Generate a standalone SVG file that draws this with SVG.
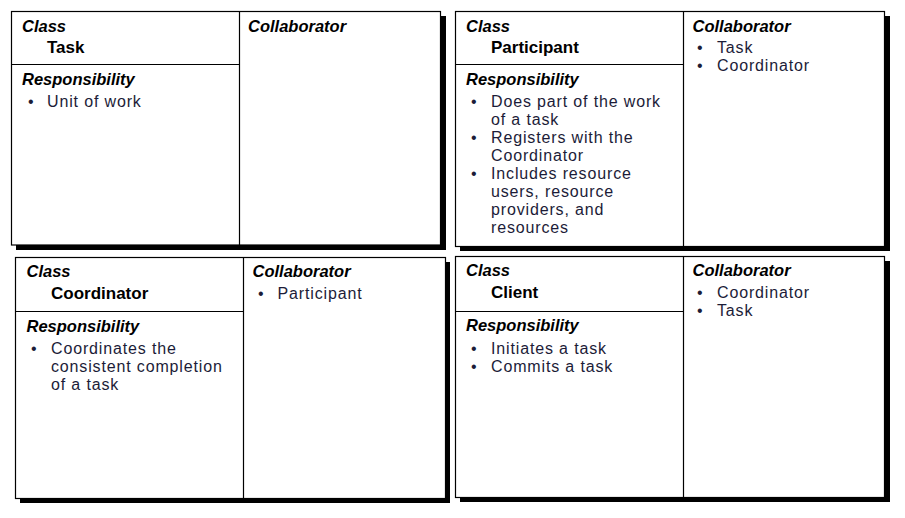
<svg xmlns="http://www.w3.org/2000/svg" width="905" height="518" viewBox="0 0 905 518">
<style>
text{font-family:"Liberation Sans",Arial,sans-serif;}
.hd{font-size:16.5px;font-weight:bold;font-style:italic;fill:#000;}
.nm{font-size:17px;font-weight:bold;fill:#000;}
.it{font-size:16px;letter-spacing:0.85px;fill:#1c1c38;}
.card{fill:#fff;stroke:#000;stroke-width:1.2;}
.sh{fill:#000;}
.ln{stroke:#000;stroke-width:1.2;fill:none;}
</style>
<rect width="905" height="518" fill="#fff"/>
<g id="card-task">
<rect class="sh" x="16" y="16" width="430" height="234"/>
<rect class="card" x="11.5" y="11.5" width="429" height="233.5"/>
<path class="ln" d="M239.5 11.5V245M11.5 64.5H239.5"/>
<text class="hd" x="22" y="32">Class</text>
<text class="nm" x="47" y="53">Task</text>
<text class="hd" x="22" y="85">Responsibility</text>
<text class="it" y="107"><tspan x="28">•</tspan><tspan x="47">Unit of work</tspan></text>
<text class="hd" x="248" y="32">Collaborator</text>
</g>
<g id="card-participant">
<rect class="sh" x="460" y="16" width="430" height="235"/>
<rect class="card" x="455.5" y="11.5" width="429" height="235"/>
<path class="ln" d="M683.5 11.5V246.5M455.5 64.5H683.5"/>
<text class="hd" x="466" y="32">Class</text>
<text class="nm" x="491" y="53">Participant</text>
<text class="hd" x="466" y="85">Responsibility</text>
<text class="it" y="107"><tspan x="471">•</tspan><tspan x="491">Does part of the work</tspan><tspan x="491" dy="18">of a task</tspan><tspan x="471" dy="18">•</tspan><tspan x="491">Registers with the</tspan><tspan x="491" dy="18">Coordinator</tspan><tspan x="471" dy="18">•</tspan><tspan x="491">Includes resource</tspan><tspan x="491" dy="18">users, resource</tspan><tspan x="491" dy="18">providers, and</tspan><tspan x="491" dy="18">resources</tspan></text>
<text class="hd" x="692.5" y="32">Collaborator</text>
<text class="it" y="53"><tspan x="697">•</tspan><tspan x="717">Task</tspan><tspan x="697" dy="18">•</tspan><tspan x="717">Coordinator</tspan></text>
</g>
<g id="card-coordinator">
<rect class="sh" x="20" y="262" width="430" height="241"/>
<rect class="card" x="15.5" y="257.5" width="430" height="241"/>
<path class="ln" d="M243.5 257.5V498.5M15.5 311.5H243.5"/>
<text class="hd" x="26.5" y="277">Class</text>
<text class="nm" x="51" y="299">Coordinator</text>
<text class="hd" x="26.5" y="332">Responsibility</text>
<text class="it" y="354"><tspan x="31">•</tspan><tspan x="51">Coordinates the</tspan><tspan x="51" dy="18">consistent completion</tspan><tspan x="51" dy="18">of a task</tspan></text>
<text class="hd" x="252.5" y="277">Collaborator</text>
<text class="it" y="299"><tspan x="258">•</tspan><tspan x="277.5">Participant</tspan></text>
</g>
<g id="card-client">
<rect class="sh" x="460" y="261" width="430" height="241"/>
<rect class="card" x="455.5" y="256.5" width="429" height="241"/>
<path class="ln" d="M683.5 256.5V497.5M455.5 311.5H683.5"/>
<text class="hd" x="466" y="276">Class</text>
<text class="nm" x="491" y="298">Client</text>
<text class="hd" x="466" y="331">Responsibility</text>
<text class="it" y="354"><tspan x="471">•</tspan><tspan x="491">Initiates a task</tspan><tspan x="471" dy="18">•</tspan><tspan x="491">Commits a task</tspan></text>
<text class="hd" x="692.5" y="276">Collaborator</text>
<text class="it" y="298"><tspan x="697">•</tspan><tspan x="717">Coordinator</tspan><tspan x="697" dy="18">•</tspan><tspan x="717">Task</tspan></text>
</g>
<g id="connectors"></g>
</svg>
